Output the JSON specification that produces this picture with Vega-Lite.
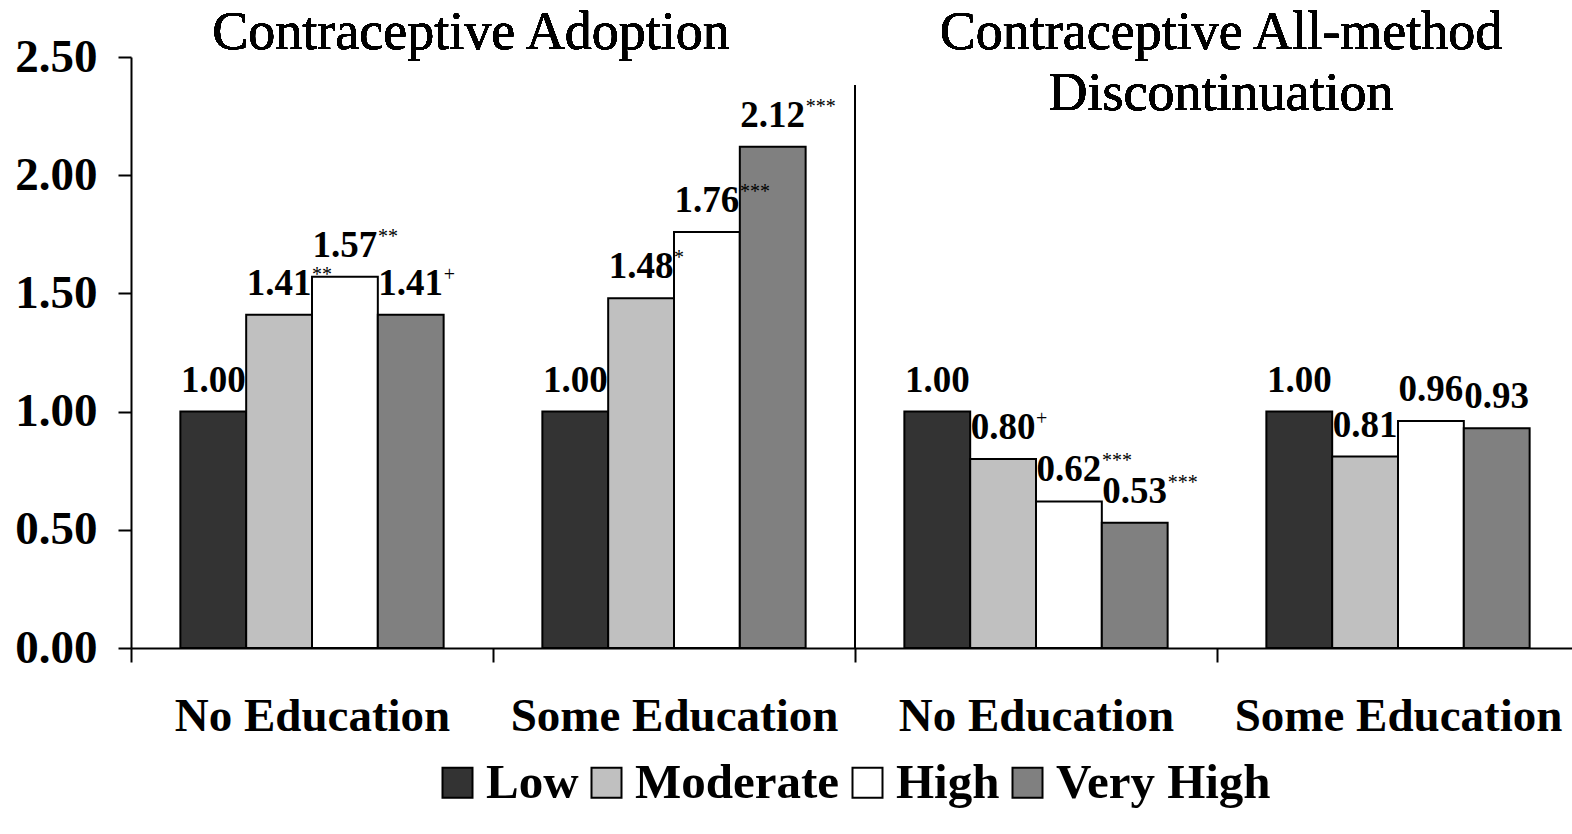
{
  "$schema": "https://vega.github.io/schema/vega-lite/v6.json",
  "width": 1441,
  "height": 591,
  "autosize": {"type": "none"},
  "padding": {"left": 131, "top": 57, "right": 0, "bottom": 186},
  "background": "white",
  "config": {
    "view": {"stroke": null},
    "font": "Liberation Serif",
    "axis": {"grid": false, "domainColor": "black", "domainWidth": 2, "tickColor": "black", "tickWidth": 2, "labelColor": "black", "labelFont": "Liberation Serif", "labelFontWeight": "bold", "labelFontSize": 47, "labelLimit": 0}
  },
  "data": {
    "values": [
      {"group": "Adoption|No Education", "level": "Low", "value": 1.00, "sig": ""},
      {"group": "Adoption|No Education", "level": "Moderate", "value": 1.41, "sig": "**"},
      {"group": "Adoption|No Education", "level": "High", "value": 1.57, "sig": "**"},
      {"group": "Adoption|No Education", "level": "Very High", "value": 1.41, "sig": "+"},
      {"group": "Adoption|Some Education", "level": "Low", "value": 1.00, "sig": ""},
      {"group": "Adoption|Some Education", "level": "Moderate", "value": 1.48, "sig": "*"},
      {"group": "Adoption|Some Education", "level": "High", "value": 1.76, "sig": "***"},
      {"group": "Adoption|Some Education", "level": "Very High", "value": 2.12, "sig": "***"},
      {"group": "Discontinuation|No Education", "level": "Low", "value": 1.00, "sig": ""},
      {"group": "Discontinuation|No Education", "level": "Moderate", "value": 0.80, "sig": "+"},
      {"group": "Discontinuation|No Education", "level": "High", "value": 0.62, "sig": "***"},
      {"group": "Discontinuation|No Education", "level": "Very High", "value": 0.53, "sig": "***"},
      {"group": "Discontinuation|Some Education", "level": "Low", "value": 1.00, "sig": ""},
      {"group": "Discontinuation|Some Education", "level": "Moderate", "value": 0.81, "sig": ""},
      {"group": "Discontinuation|Some Education", "level": "High", "value": 0.96, "sig": ""},
      {"group": "Discontinuation|Some Education", "level": "Very High", "value": 0.93, "sig": ""}
    ]
  },
  "layer": [
    {
      "mark": {"type": "bar", "stroke": "black", "strokeWidth": 2},
      "encoding": {
        "x": {
          "field": "group", "type": "nominal",
          "scale": {"domain": ["Adoption|No Education", "Adoption|Some Education", "Discontinuation|No Education", "Discontinuation|Some Education"], "paddingInner": 0, "paddingOuter": 0, "range": [0, 1448]},
          "axis": {"title": null, "labelAngle": 0, "tickBand": "extent", "tickSize": 14, "labelPadding": 31, "labelLimit": 0, "labelExpr": "split(datum.label, '|')[1]"}
        },
        "xOffset": {
          "field": "level", "type": "nominal",
          "scale": {"domain": ["Low", "Moderate", "High", "Very High"], "paddingInner": 0, "paddingOuter": 0.75}
        },
        "y": {
          "field": "value", "type": "quantitative",
          "scale": {"domain": [0, 2.5], "nice": false},
          "axis": {"title": null, "values": [0, 0.5, 1, 1.5, 2, 2.5], "format": ".2f", "tickSize": 13, "labelPadding": 21}
        },
        "fill": {
          "field": "level", "type": "nominal",
          "scale": {"domain": ["Low", "Moderate", "High", "Very High"], "range": ["#333333", "#c0c0c0", "#ffffff", "#808080"]},
          "legend": {
            "title": null, "orient": "none", "direction": "horizontal", "legendX": 302, "legendY": 701,
            "symbolType": "square", "symbolSize": 900, "symbolStrokeColor": "black", "symbolStrokeWidth": 2,
            "labelFont": "Liberation Serif", "labelFontWeight": "bold", "labelFontSize": 49, "labelColor": "black",
            "labelOffset": 4, "columnPadding": 3, "labelLimit": 400
          }
        }
      }
    },
    {
      "mark": {"type": "text", "fontSize": 37, "fontWeight": "bold", "font": "Liberation Serif", "align": "center", "baseline": "alphabetic", "dy": -20, "color": "black"},
      "encoding": {
        "x": {"field": "group", "type": "nominal"},
        "xOffset": {"field": "level", "type": "nominal"},
        "y": {"field": "value", "type": "quantitative"},
        "text": {"field": "value", "type": "quantitative", "format": ".2f"}
      }
    },
    {
      "mark": {"type": "text", "fontSize": 20, "font": "Liberation Serif", "align": "left", "baseline": "alphabetic", "dx": 33, "dy": -34, "color": "black"},
      "encoding": {
        "x": {"field": "group", "type": "nominal"},
        "xOffset": {"field": "level", "type": "nominal"},
        "y": {"field": "value", "type": "quantitative"},
        "text": {"field": "sig", "type": "nominal"}
      }
    },
    {
      "mark": {"type": "rule", "color": "black", "strokeWidth": 2},
      "encoding": {
        "x": {"datum": "Discontinuation|No Education", "bandPosition": 0},
        "y": {"datum": 2.38},
        "y2": {"datum": 0}
      }
    },
    {
      "mark": {"type": "text", "fontSize": 54, "font": "Liberation Serif", "align": "center", "baseline": "alphabetic", "dx": -22, "dy": -8, "color": "black", "text": "Contraceptive Adoption"},
      "encoding": {
        "x": {"datum": "Adoption|Some Education", "bandPosition": 0},
        "y": {"datum": 2.5}
      }
    },
    {
      "mark": {"type": "text", "fontSize": 54, "font": "Liberation Serif", "align": "center", "baseline": "alphabetic", "dx": 4, "dy": -8, "lineHeight": 61, "color": "black", "text": ["Contraceptive All-method", "Discontinuation"]},
      "encoding": {
        "x": {"datum": "Discontinuation|Some Education", "bandPosition": 0},
        "y": {"datum": 2.5}
      }
    }
  ]
}
